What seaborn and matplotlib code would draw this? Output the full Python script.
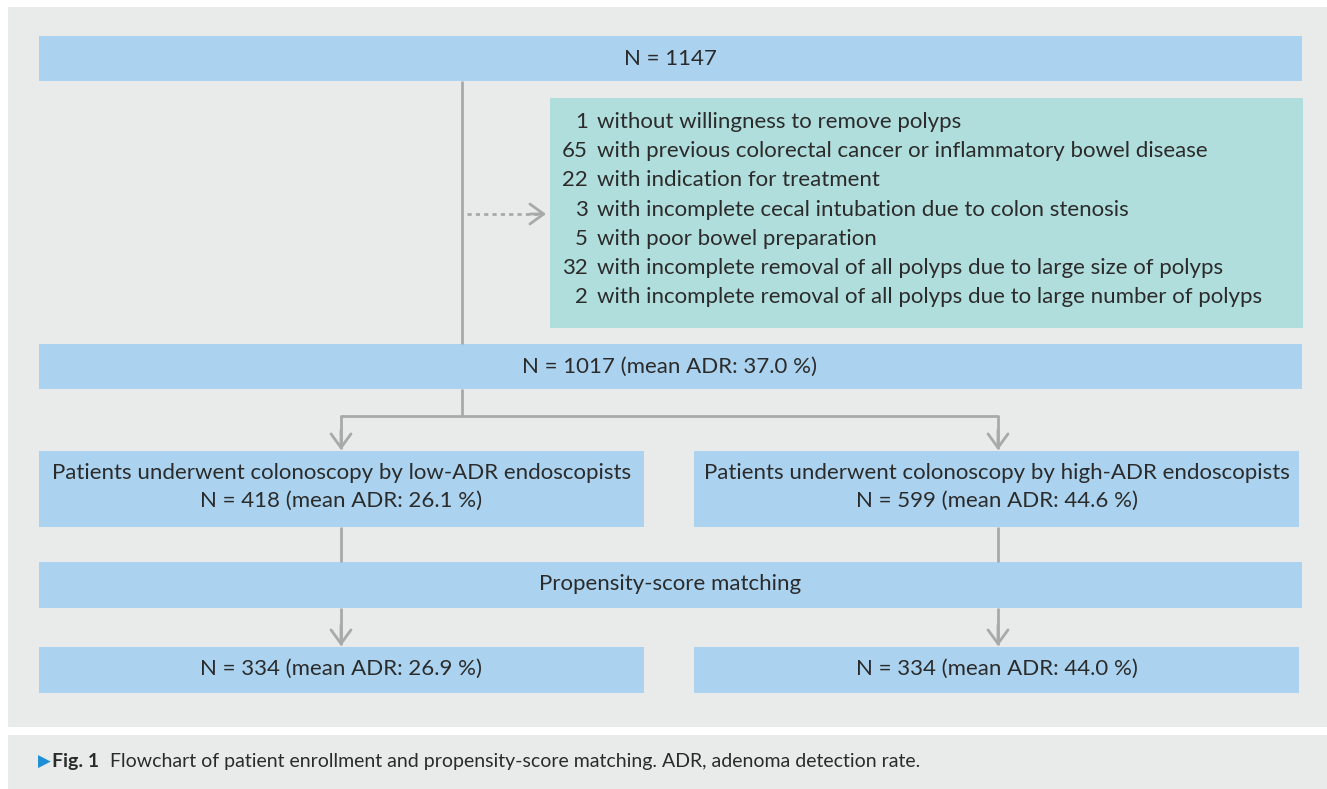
#! /usr/bin/env python
# -*- coding: utf-8 -*-
"""Flowchart of patient enrollment and propensity-score matching."""

import matplotlib.pyplot as plt
from matplotlib.patches import Rectangle
import seaborn as sns

sns.set_theme(style='white')
plt.rcParams['font.family'] = ['Lato', 'DejaVu Sans']

# data
total_n = 1147
excl_counts = [1, 65, 22, 3, 5, 32, 2]
excl_reasons = [
    'without willingness to remove polyps',
    'with previous colorectal cancer or inflammatory bowel disease',
    'with indication for treatment',
    'with incomplete cecal intubation due to colon stenosis',
    'with poor bowel preparation',
    'with incomplete removal of all polyps due to large size of polyps',
    'with incomplete removal of all polyps due to large number of polyps',
]
included_n = 1017
included_adr = 37.0
group_labels = ['low-ADR', 'high-ADR']
group_n = [418, 599]
group_adr = [26.1, 44.6]
matched_n = [334, 334]
matched_adr = [26.9, 44.0]
caption_label = 'Fig. 1'
caption_text = ('Flowchart of patient enrollment and propensity-score matching. '
                'ADR, adenoma detection rate.')

# colours
PANEL = '#e9ebea'
BLUE = '#abd3ef'
TEAL = '#b0dedc'
LINE = '#a9a9a9'
TXT = '#2b2b2b'
FS = 16

fig = plt.figure(figsize=(13.27, 7.89), dpi=100)
ax = fig.add_axes([0, 0, 1, 1])
ax.set_xlim(0, 1327)
ax.set_ylim(789, 0)
ax.axis('off')


def box(x0, y0, x1, y1, color=BLUE):
    ax.add_patch(Rectangle((x0, y0), x1 - x0, y1 - y0, facecolor=color,
                           edgecolor='none', zorder=1))


def line(xs, ys, ls='-'):
    ax.plot(xs, ys, color=LINE, lw=2, ls=ls, solid_capstyle='butt', zorder=2)


def arrow(x, y0, y1):
    ax.annotate('', xy=(x, y1), xytext=(x, y0),
                arrowprops=dict(arrowstyle='->,head_length=0.55,head_width=0.4',
                                color=LINE, lw=2, mutation_scale=18,
                                shrinkA=0, shrinkB=0), zorder=2)


# backgrounds
ax.add_patch(Rectangle((8, 7), 1319, 720, facecolor=PANEL, edgecolor='none', zorder=0))
ax.add_patch(Rectangle((8, 735), 1319, 54, facecolor=PANEL, edgecolor='none', zorder=0))

# top box
box(39, 36, 1302, 81)
ax.text(670, 59, f'N = {total_n}', ha='center', va='center', fontsize=FS, color=TXT)

# vertical trunk and exclusion
line([462, 462], [81, 344])
ax.plot([467, 540], [214, 214], color=LINE, lw=2, ls=(0, (1.5, 1.5)), zorder=2)
ax.annotate('', xy=(546, 214), xytext=(530, 214),
            arrowprops=dict(arrowstyle='->,head_length=0.55,head_width=0.4',
                            color=LINE, lw=2, mutation_scale=18,
                            shrinkA=0, shrinkB=0), zorder=2)
box(550, 98, 1303, 328, TEAL)
for i, (c, r) in enumerate(zip(excl_counts, excl_reasons)):
    y = 122 + i * 29.2
    ax.text(588, y, str(c), ha='right', va='center', fontsize=FS, color=TXT)
    ax.text(597, y, r, ha='left', va='center', fontsize=FS, color=TXT)

# included
box(39, 344, 1302, 389)
ax.text(670, 367, f'N = {included_n} (mean ADR: {included_adr:.1f} %)',
        ha='center', va='center', fontsize=FS, color=TXT)

# split
line([462, 462], [389, 416])
line([341, 998], [416, 416])
cols = [(39, 644, 341), (694, 1299, 998)]
for (x0, x1, xc), lab, n, adr in zip(cols, group_labels, group_n, group_adr):
    line([xc, xc], [415, 449])
    arrow(xc, 430, 450)
    box(x0, 451, x1, 527)
    ax.text((x0 + x1) / 2, 473,
            f'Patients underwent colonoscopy by {lab} endoscopists',
            ha='center', va='center', fontsize=FS, color=TXT)
    ax.text((x0 + x1) / 2, 501, f'N = {n} (mean ADR: {adr:.1f} %)',
            ha='center', va='center', fontsize=FS, color=TXT)
    line([xc, xc], [527, 562])

# matching
box(39, 562, 1302, 608)
ax.text(670, 584, 'Propensity-score matching', ha='center', va='center',
        fontsize=FS, color=TXT)

for (x0, x1, xc), n, adr in zip(cols, matched_n, matched_adr):
    line([xc, xc], [608, 645])
    arrow(xc, 625, 646)
    box(x0, 647, x1, 693)
    ax.text((x0 + x1) / 2, 669, f'N = {n} (mean ADR: {adr:.1f} %)',
            ha='center', va='center', fontsize=FS, color=TXT)

# caption
ax.text(38, 762, '\u25b6', ha='left', va='center', fontsize=12, color='#1e8fd6')
ax.text(52, 762, caption_label, ha='left', va='center', fontsize=14,
        fontweight='bold', color=TXT)
ax.text(110, 762, caption_text, ha='left', va='center', fontsize=14, color=TXT)

fig.savefig('out.png', dpi=100)
